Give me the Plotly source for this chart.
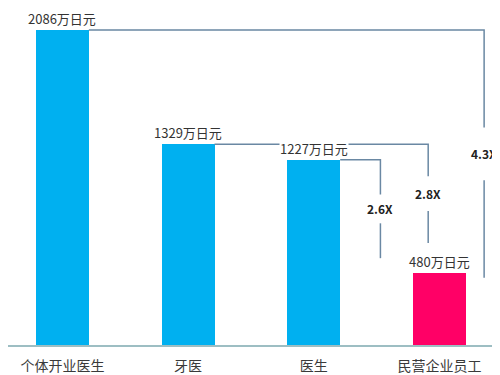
import plotly.graph_objects as go

# ---- data ----
categories = ["个体开业医生", "牙医", "医生", "民营企业员工"]
income = [2086, 1329, 1227, 480]          # 年收入（万日元）
unit = "万日元"

# ---- styles / layout constants ----
bar_colors = ["#00B0F0", "#00B0F0", "#00B0F0", "#FF0066"]
bar_width = 0.42
line_color = "#6A88A3"
font_family = "Noto Sans CJK SC, Noto Sans, sans-serif"

x = list(range(len(categories)))
base = income[-1]
ratio_labels = [f"{v / base:.1f}X" for v in income[:-1]]

# bracket geometry (relative to the last bar), in axis units
bracket_x_offset = [0.355, -0.09, -0.47]
bracket_bottom = [445, 675, 575]
gap_half = [175, 115, 95]

fig = go.Figure()
fig.add_trace(go.Bar(
    x=x, y=income, width=bar_width,
    marker=dict(color=bar_colors, line=dict(width=0)),
    hoverinfo="skip", showlegend=False,
))

lx, ly = [], []
for i in range(len(ratio_labels)):
    xv = x[-1] + bracket_x_offset[i]
    top = income[i]
    bot = bracket_bottom[i]
    mid = (top + bot) / 2
    lx += [x[i] + bar_width / 2, xv, xv, None, xv, xv, None]
    ly += [top, top, mid + gap_half[i], None, mid - gap_half[i], bot, None]
    fig.add_annotation(
        x=xv, y=mid, text=f"<b>{ratio_labels[i]}</b>", showarrow=False,
        font=dict(family=font_family, size=12, color="#222222"),
        xanchor="center", yanchor="middle",
    )

fig.add_trace(go.Scatter(
    x=lx, y=ly, mode="lines",
    line=dict(color=line_color, width=1.5),
    hoverinfo="skip", showlegend=False,
))

for xi, v in zip(x, income):
    fig.add_annotation(
        x=xi, y=v, text=f"{v}{unit}", showarrow=False,
        xanchor="center", yanchor="bottom", yshift=1,
        bgcolor="white", borderpad=0,
        font=dict(family=font_family, size=13, color="#333333"),
    )

fig.update_layout(
    width=500, height=375,
    margin=dict(l=0, r=0, t=0, b=38),
    paper_bgcolor="white", plot_bgcolor="white",
    bargap=0,
)
fig.update_xaxes(
    range=[-0.433, 3.545],
    tickmode="array", tickvals=x, ticktext=categories,
    tickfont=dict(family=font_family, size=14, color="#3a3a3a"),
    ticklabelstandoff=7,
    showgrid=False, zeroline=False,
    showline=True, linecolor="#9DBEC3", linewidth=1.5,
    ticks="", fixedrange=True,
)
fig.update_yaxes(
    range=[0, 2232], visible=False, showgrid=False, zeroline=False,
    fixedrange=True,
)

fig.write_html("out.html")
